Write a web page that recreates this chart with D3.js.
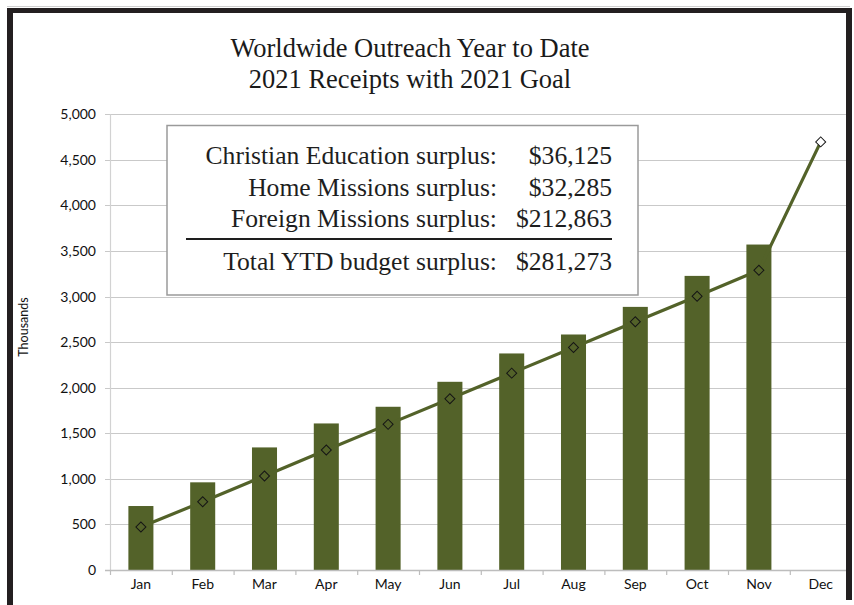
<!DOCTYPE html>
<html>
<head>
<meta charset="utf-8">
<script src="https://cdn.jsdelivr.net/npm/d3@7"></script>
<style>
  body { margin: 0; background: #fff; }
  .axis text { font-family: Lato, sans-serif; font-size: 14px; fill: #111; }
</style>
</head>
<body>
<div id="chart"></div>
<script>
// monthly values, in thousands
var months = ["Jan", "Feb", "Mar", "Apr", "May", "Jun", "Jul", "Aug", "Sep", "Oct", "Nov", "Dec"];
var receipts = [702, 962, 1345, 1608, 1791, 2065, 2376, 2584, 2887, 3227, 3571, null];
var goal = [471, 749, 1031, 1316, 1598, 1879, 2160, 2442, 2723, 3004, 3289, 4697];
var yTicks = [0, 500, 1000, 1500, 2000, 2500, 3000, 3500, 4000, 4500, 5000];
var titleLines = ["Worldwide Outreach Year to Date", "2021 Receipts with 2021 Goal"];
var surplusLabels = ["Christian Education surplus:", "Home Missions surplus:", "Foreign Missions surplus:", "Total YTD budget surplus:"];
var surplusValues = ["$36,125", "$32,285", "$212,863", "$281,273"];

var w = 854;
var h = 605;
var green = "#536229";

var svg = d3.select("#chart").append("svg").attr("width", w).attr("height", h);

var xScale = d3.scaleBand().domain(months).range([110, 851.6]).paddingInner(0.595).paddingOuter(0.2975);
var xCat = d3.scaleBand().domain(months).range([110, 851.6]); // for tick positions
var yScale = d3.scaleLinear().domain([0, 5000]).range([570, 114.3]);

// gridlines
svg.append("g").selectAll("line").data(yTicks.slice(1)).enter().append("line")
    .attr("x1", 105).attr("x2", 852)
    .attr("y1", function(d) { return Math.round(yScale(d)) + 0.5; })
    .attr("y2", function(d) { return Math.round(yScale(d)) + 0.5; })
    .style("stroke", "#c9c9c9").style("stroke-width", 1.2);

// y axis line
svg.append("line").attr("x1", 110.5).attr("x2", 110.5).attr("y1", yScale(5000)).attr("y2", yScale(0))
    .style("stroke", "#d2d2d2").style("stroke-width", 1.2);

// y labels
var yAxis = d3.axisLeft(yScale).tickValues(yTicks).tickFormat(d3.format(",")).tickSize(0).tickPadding(14);
var gy = svg.append("g").attr("class", "axis").attr("transform", "translate(110,0)").call(yAxis);
gy.select(".domain").remove();

// the box with surplus figures
svg.append("rect").attr("x", 167).attr("y", 125.5).attr("width", 471).attr("height", 169.5)
    .style("fill", "#fff").style("stroke", "#9a9a9a").style("stroke-width", 1.5);

var rowY = [164, 196, 227, 270];
svg.append("g").selectAll("text").data(surplusLabels).enter().append("text")
    .attr("x", 497).attr("y", function(d, i) { return rowY[i]; })
    .attr("text-anchor", "end")
    .style("font-family", "'Liberation Serif', serif").style("font-size", "25.6px").style("fill", "#1e1e1e")
    .text(function(d) { return d; });
svg.append("g").selectAll("text").data(surplusValues).enter().append("text")
    .attr("x", 612).attr("y", function(d, i) { return rowY[i]; })
    .attr("text-anchor", "end")
    .style("font-family", "'Liberation Serif', serif").style("font-size", "25.6px").style("fill", "#1e1e1e")
    .text(function(d) { return d; });
svg.append("line").attr("x1", 186).attr("x2", 612).attr("y1", 239).attr("y2", 239)
    .style("stroke", "#1e1e1e").style("stroke-width", 1.8);

// bars
svg.append("g").selectAll("rect").data(months.filter(function(m, i) { return receipts[i] != null; }))
    .enter().append("rect")
    .attr("x", function(d) { return xScale(d); })
    .attr("width", xScale.bandwidth())
    .attr("y", function(d, i) { return yScale(receipts[i]); })
    .attr("height", function(d, i) { return yScale(0) - yScale(receipts[i]); })
    .style("fill", green);

// x axis baseline with category ticks
svg.append("line").attr("x1", 105).attr("x2", 852).attr("y1", 570.5).attr("y2", 570.5)
    .style("stroke", "#bdbdbd").style("stroke-width", 1.5);
svg.append("g").selectAll("line").data(months).enter().append("line")
    .attr("x1", function(d) { return xCat(d) + 0.5; })
    .attr("x2", function(d) { return xCat(d) + 0.5; })
    .attr("y1", 570).attr("y2", 575)
    .style("stroke", "#bdbdbd").style("stroke-width", 1.2);

var xAxis = d3.axisBottom(xScale).tickSize(0).tickPadding(9);
var gx = svg.append("g").attr("class", "axis").attr("transform", "translate(0,570)").call(xAxis);
gx.select(".domain").remove();

// goal line
var goalLine = d3.line()
    .x(function(d, i) { return xScale(months[i]) + xScale.bandwidth() / 2; })
    .y(function(d) { return yScale(d); });
svg.append("path").datum(goal).attr("d", goalLine)
    .style("fill", "none").style("stroke", green).style("stroke-width", 3.2);

// diamond markers
svg.append("g").selectAll("path").data(goal).enter().append("path")
    .attr("d", d3.symbol().type(d3.symbolSquare).size(50))
    .attr("transform", function(d, i) {
        return "translate(" + (xScale(months[i]) + xScale.bandwidth() / 2) + "," + yScale(d) + ") rotate(45)";
    })
    .style("fill", function(d, i) { return i == goal.length - 1 ? "#fff" : "none"; })
    .style("stroke", "#151515").style("stroke-width", 1);

// y axis title
svg.append("text").attr("transform", "translate(28,327) rotate(-90)")
    .attr("text-anchor", "middle")
    .style("font-family", "Lato, sans-serif").style("font-size", "12.5px").style("fill", "#111")
    .text("Thousands");

// chart title
svg.append("g").selectAll("text").data(titleLines).enter().append("text")
    .attr("x", 410).attr("y", function(d, i) { return 57 + i * 31; })
    .attr("text-anchor", "middle")
    .style("font-family", "'Liberation Serif', serif").style("font-size", "26.5px").style("fill", "#1a1a1a")
    .text(function(d) { return d; });

// frame
svg.append("line").attr("x1", 7).attr("x2", 850).attr("y1", 6.5).attr("y2", 6.5).style("stroke", "#d0d0d0");
svg.append("rect").attr("x", 7).attr("y", 8).attr("width", 845).attr("height", 5).style("fill", "#231f20");
svg.append("rect").attr("x", 7).attr("y", 8).attr("width", 6).attr("height", 597).style("fill", "#231f20");
svg.append("rect").attr("x", 846).attr("y", 8).attr("width", 6).attr("height", 592).style("fill", "#231f20");
</script>
</body>
</html>
